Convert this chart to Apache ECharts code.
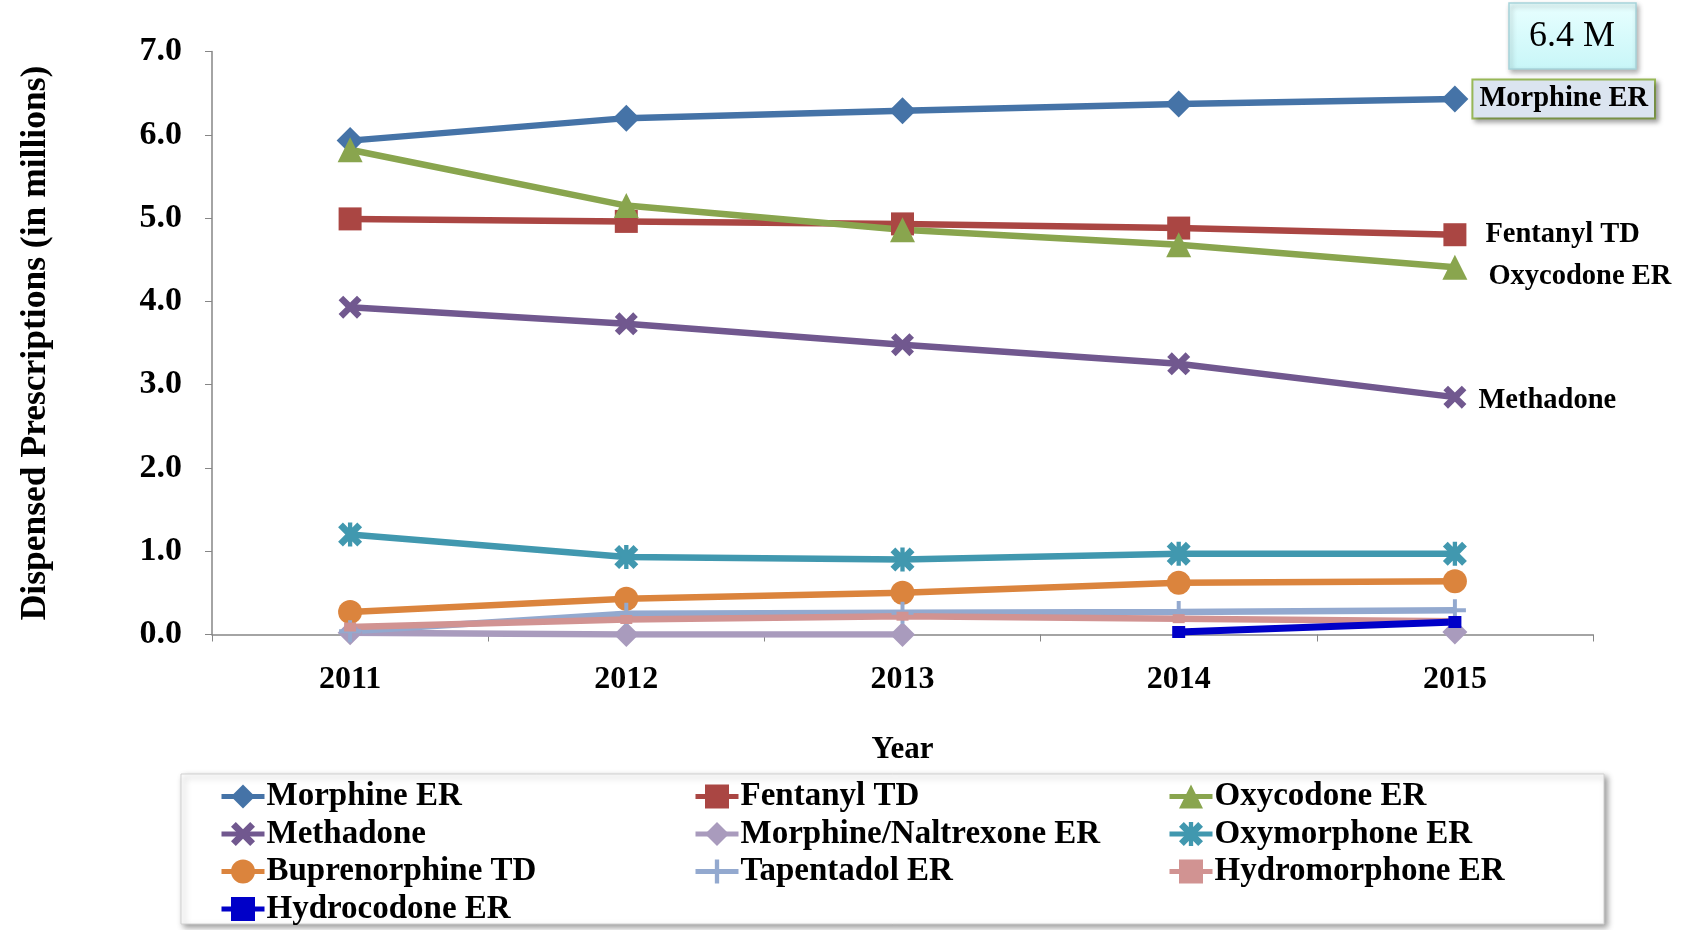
<!DOCTYPE html>
<html>
<head>
<meta charset="utf-8">
<script src="https://cdn.jsdelivr.net/npm/echarts@6/dist/echarts.min.js"></script>
<style>
html,body{margin:0;padding:0;background:#fff;}
#chart{width:1690px;height:930px;}
</style>
</head>
<body>
<div id="chart"></div>
<script>
// ---- data ----
const years = ['2011', '2012', '2013', '2014', '2015'];
const seriesNames = ['Morphine ER', 'Fentanyl TD', 'Oxycodone ER', 'Methadone', 'Morphine/Naltrexone ER',
  'Oxymorphone ER', 'Buprenorphine TD', 'Tapentadol ER', 'Hydromorphone ER', 'Hydrocodone ER'];
const morphineER = [5.93, 6.20, 6.29, 6.37, 6.43];
const fentanylTD = [4.99, 4.96, 4.93, 4.88, 4.80];
const oxycodoneER = [5.82, 5.15, 4.86, 4.68, 4.41];
const methadone = [3.93, 3.73, 3.48, 3.25, 2.85];
const morphineNaltrexoneER = [0.02, 0.00, 0.00, null, 0.03];
const oxymorphoneER = [1.20, 0.93, 0.90, 0.97, 0.97];
const buprenorphineTD = [0.27, 0.43, 0.50, 0.62, 0.64];
const tapentadolER = [0.04, 0.25, 0.26, 0.27, 0.29];
const hydromorphoneER = [0.09, 0.18, 0.22, 0.19, 0.16];
const hydrocodoneER = [null, null, null, 0.03, 0.15];
const yTicks = [0, 1, 2, 3, 4, 5, 6, 7];
const calloutText = '6.4 M';

// ---- styling ----
const FONT = "'Liberation Serif', 'Times New Roman', serif";
const X_PATH = 'path://M0,2 L2,0 L5,3 L8,0 L10,2 L7,5 L10,8 L8,10 L5,7 L2,10 L0,8 L3,5 Z';
const STAR_PATH = 'path://M0,2 L2,0 L5,3 L8,0 L10,2 L7,5 L10,8 L8,10 L5,7 L2,10 L0,8 L3,5 Z M4.1,0 L5.9,0 L5.9,10 L4.1,10 Z';
const PLUS_PATH = 'path://M4.1,0 L5.9,0 L5.9,4.1 L10,4.1 L10,5.9 L5.9,5.9 L5.9,10 L4.1,10 L4.1,5.9 L0,5.9 L0,4.1 L4.1,4.1 Z';

const labelBase = {show: true, position: 'right', formatter: '{a}', color: '#000',
  fontFamily: FONT, fontWeight: 'bold', fontSize: 28.5};
const endLabel = {
  'Morphine ER': Object.assign({}, labelBase, {distance: 5,
    backgroundColor: '#dbe4f0', borderColor: '#9bbb59', borderWidth: 2, padding: [5, 6, 3, 6],
    shadowColor: 'rgba(0,0,0,0.35)', shadowBlur: 5, shadowOffsetX: 3, shadowOffsetY: 3}),
  'Fentanyl TD': Object.assign({}, labelBase, {distance: 19, offset: [0, 0]}),
  'Oxycodone ER': Object.assign({}, labelBase, {distance: 21, offset: [0, 9]}),
  'Methadone': Object.assign({}, labelBase, {distance: 12, offset: [0, 4]})
};

function mk(name, values, color, symbol, size, width) {
  const data = values.map((v, i) => {
    if (i === values.length - 1 && endLabel[name]) {
      return {value: v, label: endLabel[name]};
    }
    return v;
  });
  return {
    name: name, type: 'line', data: data, color: color,
    symbol: symbol, symbolSize: size, showSymbol: true,
    connectNulls: false, animation: false,
    lineStyle: {color: color, width: width || 6.5},
    itemStyle: {color: color, borderWidth: 0},
    emphasis: {disabled: true}
  };
}

const series = [
  mk('Morphine ER', morphineER, '#4573a7', 'diamond', 27),
  mk('Fentanyl TD', fentanylTD, '#aa4643', 'rect', 23),
  mk('Oxycodone ER', oxycodoneER, '#89a54e', 'triangle', 25),
  mk('Methadone', methadone, '#71588f', X_PATH, 23),
  mk('Morphine/Naltrexone ER', morphineNaltrexoneER, '#a99bbd', 'diamond', 25),
  mk('Oxymorphone ER', oxymorphoneER, '#4198af', STAR_PATH, 24),
  mk('Buprenorphine TD', buprenorphineTD, '#db843d', 'circle', 24),
  mk('Tapentadol ER', tapentadolER, '#93a9cf', PLUS_PATH, 22),
  mk('Hydromorphone ER', hydromorphoneER, '#d19392', 'rect', [12, 9]),
  mk('Hydrocodone ER', hydrocodoneER, '#0000c8', 'rect', [13, 12], 7)
];

const legendCols = [
  ['Morphine ER', 'Methadone', 'Buprenorphine TD', 'Hydrocodone ER'],
  ['Fentanyl TD', 'Morphine/Naltrexone ER', 'Tapentadol ER'],
  ['Oxycodone ER', 'Oxymorphone ER', 'Hydromorphone ER']
];
const legendLeft = [219, 693, 1167];
const legends = legendCols.map((col, i) => ({
  orient: 'vertical', left: legendLeft[i], top: 780, padding: 0,
  itemWidth: 43, itemHeight: 30, itemGap: 4.5,
  data: col, selectedMode: false,
  lineStyle: {width: 5},
  textStyle: {fontFamily: FONT, fontWeight: 'bold', fontSize: 33, color: '#000', padding: [0, 0, 0, -3]}
}));

const chart = echarts.init(document.getElementById('chart'), null, {renderer: 'canvas'});
chart.setOption({
  backgroundColor: '#fff',
  animation: false,
  grid: {left: 212, right: 97, top: 51.5, bottom: 295.5, containLabel: false},
  legend: legends,
  xAxis: {
    type: 'category', data: years, boundaryGap: true,
    name: 'Year', nameLocation: 'middle', nameGap: 100,
    nameTextStyle: {fontFamily: FONT, fontWeight: 'bold', fontSize: 31, color: '#000'},
    axisLine: {lineStyle: {color: '#868686', width: 1.5}},
    axisTick: {show: true, length: 7, lineStyle: {color: '#868686'}},
    axisLabel: {fontFamily: FONT, fontWeight: 'bold', fontSize: 32, color: '#000', margin: 29}
  },
  yAxis: {
    type: 'value', min: yTicks[0], max: yTicks[yTicks.length - 1], interval: 1,
    name: 'Dispensed Prescriptions (in millions)', nameLocation: 'middle', nameGap: 158, nameRotate: 90,
    nameTextStyle: {fontFamily: FONT, fontWeight: 'bold', fontSize: 35.5, color: '#000'},
    axisLine: {show: true, lineStyle: {color: '#868686', width: 1.5}},
    axisTick: {show: true, length: 7, lineStyle: {color: '#868686'}},
    splitLine: {show: false},
    axisLabel: {fontFamily: FONT, fontWeight: 'bold', fontSize: 34, color: '#000', margin: 30,
      formatter: v => v.toFixed(1)}
  },
  graphic: [
    {type: 'rect', z: -10, shape: {x: 181, y: 774, width: 1423, height: 150},
      style: {fill: '#fff', stroke: '#d0d0d0', lineWidth: 1,
        shadowColor: 'rgba(0,0,0,0.4)', shadowBlur: 6, shadowOffsetX: 3, shadowOffsetY: 3}},
    {type: 'rect', z: 10, shape: {x: 1509, y: 3, width: 127, height: 66},
      style: {fill: new echarts.graphic.LinearGradient(0, 0, 0, 1, [
          {offset: 0, color: '#e8ffff'}, {offset: 1, color: '#c8f6f8'}]),
        stroke: '#a6d4da', lineWidth: 1.5,
        shadowColor: 'rgba(0,0,0,0.3)', shadowBlur: 5, shadowOffsetX: 2, shadowOffsetY: 3}},
    {type: 'text', z: 11, x: 1572, y: 37,
      style: {text: calloutText, fontFamily: FONT, fontSize: 36, fill: '#000',
        textAlign: 'center', textVerticalAlign: 'middle'}}
  ],
  series: series
});
</script>
</body>
</html>
